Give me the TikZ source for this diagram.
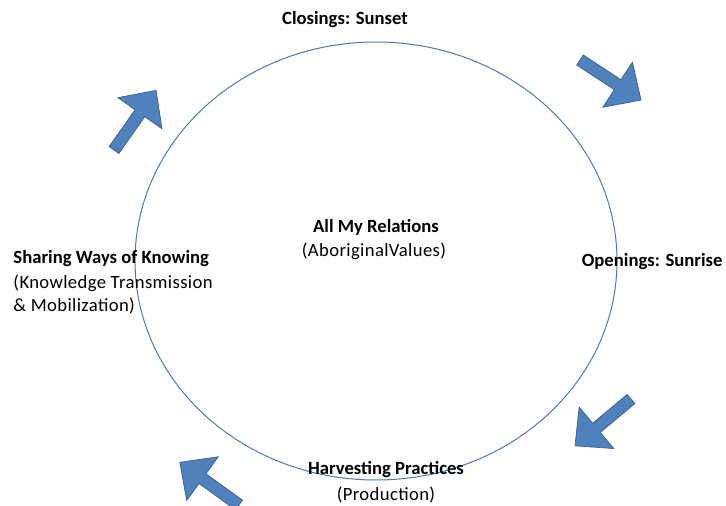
\documentclass[tikz,border=0pt]{standalone}
\usepackage{fontspec}
\setmainfont{Carlito}
\newfontfamily\spacedfont[LetterSpace=2]{Carlito}

\tikzset{every picture/.style={line width=0.75pt}}
\tikzset{
  headtext/.style={inner sep=0pt, font=\fontsize{14}{17}\selectfont\bfseries},
  subtext/.style={inner sep=0pt, font=\fontsize{14}{17}\selectfont\spacedfont},
  flowarrow/.pic={
    \draw [color={rgb, 255:red, 56; green, 93; blue, 138 }, draw opacity=1, line width=0.5pt][fill={rgb, 255:red, 79; green, 129; blue, 189 }, fill opacity=1 ]
      (0,-6) -- (45,-6) -- (45,-27) -- (73,0) -- (45,27) -- (45,6) -- (0,6) -- cycle ;
  }
}

\begin{document}
\begin{tikzpicture}[x=0.75pt,y=0.75pt,yscale=-1,xscale=1]
\useasboundingbox (0,0) rectangle (726,506); %picture is 726 x 506

%the cycle
\draw  [color={rgb, 255:red, 79; green, 120; blue, 175 }  ,draw opacity=1 ]  (376, 261) circle [x radius= 241, y radius= 219]  ;

%arrows round the cycle
\pic (arrowNW) [rotate=54.8] at (114,150) {flowarrow};
\pic (arrowNE) [rotate=-33.3] at (580,60) {flowarrow};
\pic (arrowSE) [rotate=-140.1] at (631,399) {flowarrow};
\pic (arrowSW) [rotate=-215.8] at (239,505) {flowarrow};

%labels
\node (closing) [headtext] at (345,20) {Closings: Sunset};
\node (opening) [headtext, anchor=east] at (723,262) {Openings: Sunrise};
\node (relations) [headtext] at (376,227) {All My Relations};
\node (values) [subtext] at (374,251) {(AboriginalValues)};
\node (sharing) [headtext, anchor=west] at (13,259) {Sharing Ways of Knowing};
\node (transmission) [subtext, anchor=west] at (13,283) {(Knowledge Transmission};
\node (mobilization) [subtext, anchor=west] at (13,306) {\& Mobilization)};
\node (harvesting) [headtext] at (386,470) {Harvesting Practices};
\node (production) [subtext] at (386,495) {(Production)};

\end{tikzpicture}
\end{document}
